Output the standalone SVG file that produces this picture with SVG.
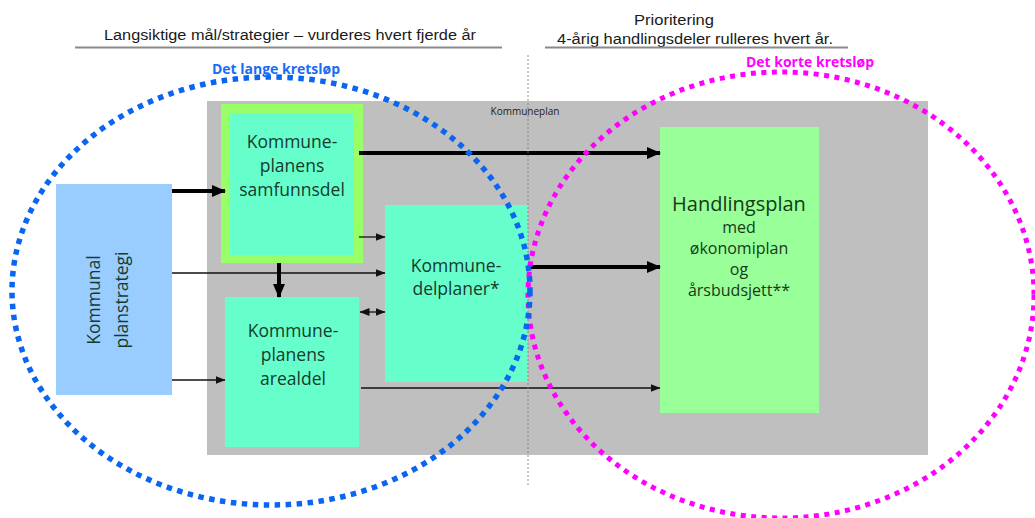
<svg xmlns="http://www.w3.org/2000/svg" width="1035" height="518" viewBox="0 0 1035 518">
  <style>
    .hdr { font-family: "Liberation Sans", Arial, sans-serif; font-size: 14px; fill: #1a1a1a; }
    .box { font-family: "Open Sans", "Liberation Sans", sans-serif; font-size: 17.5px; fill: #163a2e; text-anchor: middle; }
    .hp { font-family: "Open Sans", "Liberation Sans", sans-serif; fill: #163a16; text-anchor: middle; }
    .loop { font-family: "Open Sans", "Liberation Sans", sans-serif; font-size: 14px; font-weight: bold; text-anchor: middle; }
    .thick { stroke: #000; stroke-width: 4; fill: none; }
    .thin { stroke: #111; stroke-width: 1.3; fill: none; }
  </style>
  <defs>
    <marker id="ahThick" markerUnits="userSpaceOnUse" markerWidth="14" markerHeight="12" refX="13" refY="6" orient="auto">
      <path d="M0,0 L14,6 L0,12 Z" fill="#000"/>
    </marker>
    <marker id="ahThin" markerUnits="userSpaceOnUse" markerWidth="10" markerHeight="8" refX="9.5" refY="4" orient="auto">
      <path d="M0,0 L10,4 L0,8 Z" fill="#111"/>
    </marker>
    <marker id="ahThinStart" markerUnits="userSpaceOnUse" markerWidth="10" markerHeight="8" refX="0.5" refY="4" orient="auto">
      <path d="M10,0 L0,4 L10,8 Z" fill="#111"/>
    </marker>
  </defs>

  <rect width="1035" height="518" fill="#ffffff"/>

  <!-- header texts -->
  <g id="header-left">
    <text class="hdr" x="290" y="40" text-anchor="middle" textLength="372" lengthAdjust="spacingAndGlyphs">Langsiktige mål/strategier – vurderes hvert fjerde år</text>
    <line x1="75" y1="47.5" x2="502" y2="47.5" stroke="#8a8a8a" stroke-width="2.2"/>
  </g>
  <g id="header-right">
    <text class="hdr" x="674" y="25" text-anchor="middle" textLength="80" lengthAdjust="spacingAndGlyphs">Prioritering</text>
    <text class="hdr" x="695" y="44" text-anchor="middle" textLength="276" lengthAdjust="spacingAndGlyphs">4-årig handlingsdeler rulleres hvert  år.</text>
    <line x1="545" y1="47.5" x2="848" y2="47.5" stroke="#8a8a8a" stroke-width="2.2"/>
  </g>

  <!-- Kommuneplan background -->
  <g id="kommuneplan">
    <rect x="207" y="101" width="721" height="354" fill="#bfbfbf"/>
    <text x="525" y="115" font-family="'Open Sans', 'Liberation Sans', sans-serif" font-size="10" fill="#222" text-anchor="middle">Kommuneplan</text>
  </g>

  <!-- nodes -->
  <g id="planstrategi">
    <rect x="56" y="184" width="116" height="211" fill="#99ccff"/>
    <text class="box" transform="translate(100,300) rotate(-90)" x="0" y="0" fill="#1a2a3a">Kommunal</text>
    <text class="box" transform="translate(128,300) rotate(-90)" x="0" y="0" fill="#1a2a3a">planstrategi</text>
  </g>

  <g id="samfunnsdel">
    <rect x="221" y="104" width="142" height="159" fill="#99ff66"/>
    <rect x="230" y="113" width="124" height="142" fill="#66ffcc"/>
    <text class="box" x="292" y="148">Kommune-</text>
    <text class="box" x="292" y="172">planens</text>
    <text class="box" x="292" y="196">samfunnsdel</text>
  </g>

  <g id="arealdel">
    <rect x="225" y="297" width="134" height="150" fill="#66ffcc"/>
    <text class="box" x="293" y="337">Kommune-</text>
    <text class="box" x="293" y="361">planens</text>
    <text class="box" x="293" y="385">arealdel</text>
  </g>

  <g id="delplaner">
    <rect x="385" y="205" width="143" height="177" fill="#66ffcc"/>
    <text class="box" x="456" y="272">Kommune-</text>
    <text class="box" x="456" y="295">delplaner*</text>
  </g>

  <g id="handlingsplan">
    <rect x="660" y="127" width="159" height="286" fill="#99ff99"/>
    <text class="hp" x="739" y="211" font-size="20">Handlingsplan</text>
    <text class="hp" x="739" y="233" font-size="16">med</text>
    <text class="hp" x="739" y="254" font-size="16">økonomiplan</text>
    <text class="hp" x="739" y="275" font-size="16">og</text>
    <text class="hp" x="739" y="296" font-size="16">årsbudsjett**</text>
  </g>

  <!-- connectors -->
  <g id="connectors">
    <line class="thick" x1="172" y1="191" x2="225" y2="191" marker-end="url(#ahThick)"/>
    <line class="thin" x1="172" y1="273" x2="385" y2="273" marker-end="url(#ahThin)"/>
    <line class="thin" x1="172" y1="380" x2="225" y2="380" marker-end="url(#ahThin)"/>
    <line class="thick" x1="359" y1="153" x2="660" y2="153" marker-end="url(#ahThick)"/>
    <line class="thin" x1="359" y1="237" x2="385" y2="237" marker-end="url(#ahThin)"/>
    <line class="thick" x1="279" y1="263" x2="279" y2="297" marker-end="url(#ahThick)"/>
    <line class="thin" x1="360" y1="312" x2="385" y2="312" marker-start="url(#ahThinStart)" marker-end="url(#ahThin)"/>
    <line class="thick" x1="528" y1="267" x2="660" y2="267" marker-end="url(#ahThick)"/>
    <line class="thin" x1="361" y1="388" x2="660" y2="388" marker-end="url(#ahThin)"/>
  </g>

  <!-- divider -->
  <line id="divider" x1="528" y1="55" x2="528" y2="486" stroke="#777" stroke-width="0.8" stroke-dasharray="2 2"/>

  <!-- loops -->
  <g id="kort-kretslop">
    <ellipse cx="781" cy="295" rx="253" ry="223" fill="none" stroke="#ff00ff" stroke-width="5" stroke-dasharray="5 5.5"/>
    <text class="loop" x="810" y="67" fill="#ff00ff">Det korte kretsløp</text>
  </g>
  <g id="lang-kretslop">
    <ellipse cx="271" cy="291" rx="259" ry="214" fill="none" stroke="#0a66f0" stroke-width="5.5" stroke-dasharray="5.5 5.5"/>
    <text class="loop" x="276" y="74" fill="#1a6cf5">Det lange kretsløp</text>
  </g>
</svg>
